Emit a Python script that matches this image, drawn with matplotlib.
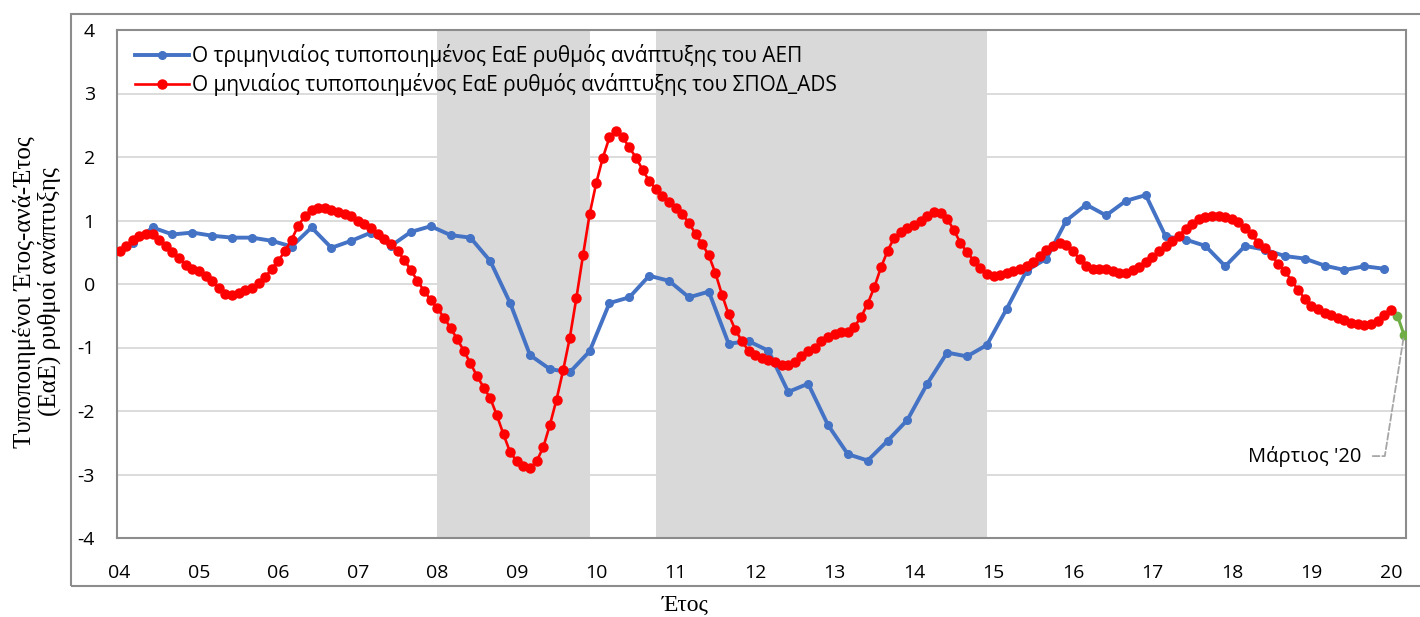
import numpy as np
import matplotlib
matplotlib.use("Agg")
import matplotlib.pyplot as plt
from matplotlib.patches import Rectangle

plt.rcParams["font.family"] = ["Open Sans", "DejaVu Sans"]
plt.rcParams["axes.unicode_minus"] = False

# x-axis year labels (one per January)
YEAR_LABELS = ["04", "05", "06", "07", "08", "09", "10", "11", "12",
               "13", "14", "15", "16", "17", "18", "19", "20"]

# quarterly GDP yoy standardised growth, 2004Q1 - 2019Q4
GDP_Q = [
    0.64, 0.89, 0.78, 0.81,
    0.76, 0.73, 0.73, 0.68,
    0.59, 0.89, 0.57, 0.68,
    0.81, 0.60, 0.82, 0.91,
    0.77, 0.73, 0.36, -0.30,
    -1.12, -1.34, -1.39, -1.06,
    -0.30, -0.21, 0.13, 0.05,
    -0.21, -0.12, -0.94, -0.90,
    -1.05, -1.70, -1.57, -2.22,
    -2.68, -2.78, -2.47, -2.14,
    -1.57, -1.08, -1.14, -0.96,
    -0.39, 0.21, 0.40, 1.00,
    1.25, 1.08, 1.31, 1.40,
    0.75, 0.70, 0.60, 0.28,
    0.60, 0.54, 0.44, 0.40,
    0.29, 0.22, 0.28, 0.24,
]

# monthly ADS yoy standardised growth, Jan 2004 - Jan 2020
ADS_M = [
    0.52, 0.60, 0.70, 0.76, 0.79, 0.78, 0.70, 0.60, 0.51, 0.41, 0.30, 0.24,
    0.20, 0.13, 0.04, -0.06, -0.15, -0.17, -0.14, -0.09, -0.06, 0.02, 0.11, 0.24,
    0.37, 0.52, 0.70, 0.92, 1.07, 1.17, 1.20, 1.19, 1.17, 1.14, 1.11, 1.07,
    0.99, 0.94, 0.88, 0.79, 0.71, 0.63, 0.52, 0.38, 0.22, 0.05, -0.11, -0.25,
    -0.38, -0.53, -0.69, -0.87, -1.05, -1.25, -1.45, -1.63, -1.80, -2.07, -2.37, -2.65,
    -2.79, -2.87, -2.90, -2.79, -2.57, -2.22, -1.82, -1.36, -0.85, -0.22, 0.45, 1.10,
    1.59, 1.99, 2.31, 2.41, 2.31, 2.15, 1.99, 1.80, 1.62, 1.50, 1.39, 1.29,
    1.20, 1.10, 0.96, 0.79, 0.63, 0.45, 0.17, -0.17, -0.48, -0.72, -0.90, -1.05,
    -1.12, -1.16, -1.19, -1.23, -1.27, -1.27, -1.23, -1.14, -1.05, -1.00, -0.90, -0.83,
    -0.78, -0.76, -0.75, -0.67, -0.52, -0.31, -0.05, 0.26, 0.52, 0.73, 0.82, 0.88,
    0.93, 0.99, 1.07, 1.13, 1.12, 1.03, 0.85, 0.65, 0.50, 0.37, 0.25, 0.16,
    0.13, 0.14, 0.17, 0.21, 0.24, 0.29, 0.35, 0.44, 0.54, 0.60, 0.64, 0.62,
    0.52, 0.39, 0.29, 0.24, 0.24, 0.23, 0.20, 0.18, 0.18, 0.22, 0.27, 0.34,
    0.42, 0.52, 0.60, 0.68, 0.76, 0.87, 0.95, 1.02, 1.06, 1.07, 1.07, 1.06,
    1.02, 0.97, 0.88, 0.78, 0.65, 0.56, 0.45, 0.32, 0.21, 0.05, -0.09, -0.23,
    -0.34, -0.39, -0.45, -0.49, -0.53, -0.56, -0.61, -0.63, -0.64, -0.63, -0.58, -0.49,
    -0.41,
]

# nowcast Feb - Mar 2020 (first value repeats Jan 2020 to join the lines)
ADS_NOW = [-0.41, -0.50, -0.80]

# recession shading, month index (start, end)
RECESSIONS = [(48, 71), (81, 131)]

BLUE = "#4472C4"
RED = "#FF0000"
GREEN = "#70AD47"
GREY = "#D9D9D9"

m_idx = np.arange(len(ADS_M))
q_idx = np.arange(len(GDP_Q)) * 3 + 2
now_idx = np.arange(len(ADS_NOW)) + len(ADS_M) - 1

fig = plt.figure(figsize=(14.2, 6.17), dpi=100)
ax = fig.add_axes([117 / 1420, 1 - 538 / 617, (1406 - 117) / 1420, (538 - 30) / 617])

# outer chart frame
fig.patches.append(Rectangle((71 / 1420, 1 - 586 / 617), 1.0, (586 - 14) / 617,
                             transform=fig.transFigure, fill=False,
                             edgecolor="#8c8c8c", lw=1.5))

for a, b in RECESSIONS:
    ax.axvspan(a, b, color=GREY, lw=0, zorder=1)

ax.plot(q_idx, GDP_Q, color=BLUE, lw=2.8, marker="o", ms=5.5, zorder=3,
        label="Ο τριμηνιαίος τυποποιημένος ΕαΕ ρυθμός ανάπτυξης του ΑΕΠ")
ax.plot(now_idx[1:], ADS_NOW[1:], color=GREEN, lw=2.2, marker="o", ms=6, zorder=3)
ax.plot(now_idx[:2], ADS_NOW[:2], color=GREEN, lw=2.2, zorder=3)
ax.plot(m_idx, ADS_M, color=RED, lw=1.9, marker="o", ms=6.5, zorder=4,
        label="Ο μηνιαίος τυποποιημένος ΕαΕ ρυθμός ανάπτυξης του ΣΠΟΔ_ADS")

ax.set_xlim(-0.38, 194.3)
ax.set_ylim(-4, 4)
ax.set_yticks(range(-4, 5))
ax.set_xticks(np.arange(len(YEAR_LABELS)) * 12)
ax.set_xticklabels(YEAR_LABELS)
ax.tick_params(axis="both", length=0, labelsize=14)
ax.tick_params(axis="y", pad=16)
ax.tick_params(axis="x", pad=19)

ax.set_axisbelow(True)
ax.yaxis.grid(True, color=GREY, lw=1.3)
for s in ax.spines.values():
    s.set_color("#8c8c8c")
    s.set_linewidth(1.5)

ax.legend(loc="upper left", bbox_to_anchor=(18 / 1289, 1 - 14 / 508), frameon=False,
          fontsize=15, handlelength=2.6, handletextpad=0.15, labelspacing=0.3,
          borderpad=0, borderaxespad=0, numpoints=1)

ax.annotate("Μάρτιος '20", xy=(now_idx[-1], ADS_NOW[-1]), xytext=(187.6, -2.71),
            ha="right", va="center", fontsize=14.5,
            arrowprops=dict(arrowstyle="-", color="#a6a6a6", ls="--", lw=1.3,
                            shrinkA=6, shrinkB=2,
                            connectionstyle="angle,angleA=0,angleB=81,rad=0"))

fig.text(37 / 1420, 1 - 292 / 617, "Τυποποιημένοι Έτος-ανά-Έτος\n(ΕαΕ) ρυθμοί ανάπτυξης",
         rotation=90, ha="center", va="center", fontsize=18,
         family=["Liberation Serif", "DejaVu Serif"], linespacing=1.05)
fig.text(685 / 1420, 1 - 605 / 617, "Έτος", ha="center", va="center", fontsize=17,
         family=["Liberation Serif", "DejaVu Serif"])

fig.savefig("out.png", dpi=100)
